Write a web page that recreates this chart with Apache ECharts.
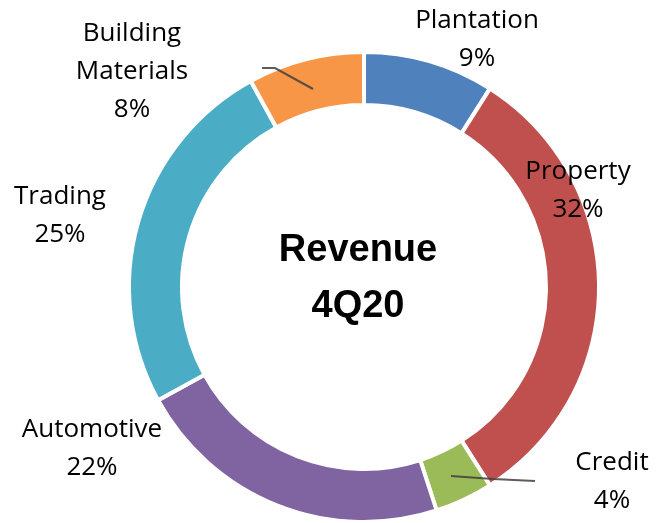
<!DOCTYPE html>
<html>
<head>
<meta charset="utf-8">
<script src="https://cdn.jsdelivr.net/npm/echarts@6/dist/echarts.min.js"></script>
<style>
  html, body { margin: 0; padding: 0; background: #fff; }
  #chart { width: 659px; height: 523px; }
</style>
</head>
<body>
<div id="chart"></div>
<script>
// 4Q20 revenue share, clockwise from 12 o'clock
var categories = ['Plantation', 'Property', 'Credit', 'Automotive', 'Trading', 'Building\nMaterials'];
var shares = [9, 32, 4, 22, 25, 8];
var colors = ['#4F81BD', '#C0504D', '#9BBB59', '#8064A2', '#4BACC6', '#F79646'];

// where each label sits (Excel-style manual placement)
var labelPos = [[477, 40], [578, 191], [612, 482], [92, 449], [60, 216], [132, 72]];
// leader lines only for the two small slices (drawn on top, like Excel)
var leaders = [
  [[451, 476], [493, 479], [535, 481]],
  [[262, 68], [275, 68], [313, 89]]
];

var chart = echarts.init(document.getElementById('chart'));

var seriesData = [];
for (let i = 0; i < categories.length; i++) {
  seriesData.push({
    name: categories[i],
    value: shares[i],
    itemStyle: { color: colors[i] }
  });
}

var option = {
  animation: false,
  title: {
    text: 'Revenue\n4Q20',
    left: 353,
    top: 274,
    textAlign: 'center',
    textVerticalAlign: 'middle',
    textStyle: {
      fontFamily: 'Liberation Sans',
      fontWeight: 'bold',
      fontSize: 38,
      lineHeight: 56,
      color: '#000'
    }
  },
  graphic: leaders.map(function (pts) {
    return {
      type: 'polyline',
      z: 100,
      silent: true,
      shape: { points: pts },
      style: { stroke: '#404040', lineWidth: 2, fill: null, opacity: 0.85 }
    };
  }),
  series: [{
    type: 'pie',
    center: [364, 287],
    radius: [182, 235],
    startAngle: 90,
    clockwise: true,
    avoidLabelOverlap: false,
    itemStyle: { borderColor: '#fff', borderWidth: 4 },
    label: {
      show: true,
      position: 'outside',
      formatter: '{b}\n{c}%',
      fontFamily: 'Open Sans',
      fontSize: 26,
      lineHeight: 38,
      color: '#000',
      align: 'center'
    },
    labelLine: { show: false },
    labelLayout: function (params) {
      var p = labelPos[params.dataIndex];
      return {
        x: p[0],
        y: p[1],
        align: 'center',
        verticalAlign: 'middle'
      };
    },
    emphasis: { disabled: true },
    data: seriesData
  }]
};

chart.setOption(option);
</script>
</body>
</html>
